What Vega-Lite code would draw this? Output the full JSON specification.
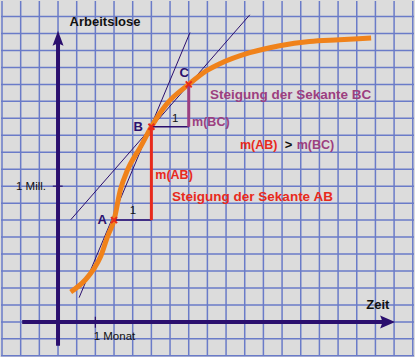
{
  "$schema": "https://vega.github.io/schema/vega-lite/v6.json",
  "width": 415,
  "height": 357,
  "autosize": {"type": "fit", "contains": "padding"},
  "padding": 0,
  "background": "#dcdcdc",
  "config": {"view": {"stroke": null}},
  "datasets": {
    "gridx": [{"x": -3}, {"x": -2}, {"x": -1}, {"x": 0}, {"x": 1}, {"x": 2}, {"x": 3}, {"x": 4}, {"x": 5}, {"x": 6}, {"x": 7}, {"x": 8}, {"x": 9}, {"x": 10}, {"x": 11}, {"x": 12}, {"x": 13}, {"x": 14}, {"x": 15}, {"x": 16}, {"x": 17}, {"x": 18}, {"x": 19}],
    "gridy": [{"y": -2}, {"y": -1}, {"y": 0}, {"y": 1}, {"y": 2}, {"y": 3}, {"y": 4}, {"y": 5}, {"y": 6}, {"y": 7}, {"y": 8}, {"y": 9}, {"y": 10}, {"y": 11}, {"y": 12}, {"y": 13}, {"y": 14}, {"y": 15}, {"y": 16}, {"y": 17}, {"y": 18}],
    "curve": [
      {"x": 0.68, "y": 1.76}, {"x": 1.48, "y": 2.5}, {"x": 1.9, "y": 3.09}, {"x": 2.28, "y": 3.85},
      {"x": 2.65, "y": 5.03}, {"x": 3.0, "y": 6.0}, {"x": 3.34, "y": 7.78}, {"x": 3.72, "y": 8.95},
      {"x": 4.41, "y": 10.3}, {"x": 5.0, "y": 11.5}, {"x": 5.85, "y": 12.88}, {"x": 7.0, "y": 14.0},
      {"x": 7.98, "y": 14.82}, {"x": 8.67, "y": 15.22}, {"x": 10.27, "y": 15.87}, {"x": 11.87, "y": 16.28},
      {"x": 13.47, "y": 16.53}, {"x": 15.07, "y": 16.63}, {"x": 16.77, "y": 16.73}
    ],
    "thin": [
      {"x": 1.13, "y": 1.43, "x2": 7.07, "y2": 17.06},
      {"x": 0.68, "y": 6.02, "x2": 10.27, "y2": 18.1}
    ],
    "axes": [
      {"x": 0, "y": -1.4, "x2": 0, "y2": 16.6},
      {"x": -1.92, "y": 0, "x2": 17.5, "y2": 0}
    ],
    "ticks": [
      {"x": -0.28, "y": 8, "x2": 0.25, "y2": 8},
      {"x": 2, "y": 0.3, "x2": 2, "y2": -0.35}
    ],
    "runs": [
      {"x": 3, "y": 6, "x2": 5, "y2": 6},
      {"x": 5, "y": 11.5, "x2": 7, "y2": 11.5}
    ],
    "riseAB": [{"x": 5, "y": 6, "x2": 5, "y2": 11.5}],
    "riseBC": [{"x": 7, "y": 11.5, "x2": 7, "y2": 14}],
    "pts": [{"x": 3, "y": 6}, {"x": 5, "y": 11.5}, {"x": 7, "y": 14}],
    "arrowUp": [{"x": 0, "y": 16.57}],
    "arrowRight": [{"x": 17.52, "y": 0}],
    "tNavy": [{"x": 2.12, "y": 6.0, "t": "A"}, {"x": 4.04, "y": 11.49, "t": "B"}, {"x": 6.5, "y": 14.66, "t": "C"}],
    "tBlackBold": [{"x": 0.62, "y": 17.66, "t": "Arbeitslose"}, {"x": 16.51, "y": 0.98, "t": "Zeit"}, {"x": 12.14, "y": 10.42, "t": ">"}],
    "tBlack": [{"x": -2.25, "y": 7.95, "t": "1 Mill."}, {"x": 1.91, "y": -0.89, "t": "1 Monat"}, {"x": 3.84, "y": 6.54, "t": "1"}, {"x": 6.1, "y": 11.98, "t": "1"}],
    "tRed": [{"x": 5.21, "y": 8.66, "t": "m(AB)"}, {"x": 9.74, "y": 10.42, "t": "m(AB)"}],
    "tRedBig": [{"x": 6.11, "y": 7.37, "t": "Steigung der Sekante AB"}],
    "tPurple": [{"x": 7.18, "y": 11.79, "t": "m(BC)"}, {"x": 12.78, "y": 10.42, "t": "m(BC)"}],
    "tPurpleBig": [{"x": 8.14, "y": 13.35, "t": "Steigung der Sekante BC"}]
  },
  "layer": [
    {
      "data": {"name": "gridx"},
      "mark": {"type": "rule", "color": "#6a7bc8", "strokeWidth": 1.5},
      "encoding": {"x": {"field": "x", "type": "quantitative", "scale": {"domain": [-3.054, 19.066], "nice": false, "zero": false}, "axis": null}}
    },
    {
      "data": {"name": "gridy"},
      "mark": {"type": "rule", "color": "#6a7bc8", "strokeWidth": 1.5},
      "encoding": {"y": {"field": "y", "type": "quantitative", "scale": {"domain": [-2.011, 18.916], "nice": false, "zero": false}, "axis": null}}
    },
    {
      "data": {"name": "thin"},
      "mark": {"type": "rule", "color": "#2b0f6e", "strokeWidth": 1},
      "encoding": {
        "x": {"field": "x", "type": "quantitative"}, "y": {"field": "y", "type": "quantitative"},
        "x2": {"field": "x2"}, "y2": {"field": "y2"}
      }
    },
    {
      "data": {"name": "curve"},
      "mark": {"type": "line", "color": "#f0821a", "strokeWidth": 5, "interpolate": "monotone"},
      "encoding": {"x": {"field": "x", "type": "quantitative"}, "y": {"field": "y", "type": "quantitative"}}
    },
    {
      "data": {"name": "runs"},
      "mark": {"type": "rule", "color": "#2b0f6e", "strokeWidth": 1.5},
      "encoding": {
        "x": {"field": "x", "type": "quantitative"}, "y": {"field": "y", "type": "quantitative"},
        "x2": {"field": "x2"}, "y2": {"field": "y2"}
      }
    },
    {
      "data": {"name": "riseAB"},
      "mark": {"type": "rule", "color": "#e82a1c", "strokeWidth": 3},
      "encoding": {
        "x": {"field": "x", "type": "quantitative"}, "y": {"field": "y", "type": "quantitative"},
        "x2": {"field": "x2"}, "y2": {"field": "y2"}
      }
    },
    {
      "data": {"name": "riseBC"},
      "mark": {"type": "rule", "color": "#9c3f80", "strokeWidth": 3},
      "encoding": {
        "x": {"field": "x", "type": "quantitative"}, "y": {"field": "y", "type": "quantitative"},
        "x2": {"field": "x2"}, "y2": {"field": "y2"}
      }
    },
    {
      "data": {"name": "axes"},
      "mark": {"type": "rule", "color": "#2b0f6e", "strokeWidth": 4},
      "encoding": {
        "x": {"field": "x", "type": "quantitative"}, "y": {"field": "y", "type": "quantitative"},
        "x2": {"field": "x2"}, "y2": {"field": "y2"}
      }
    },
    {
      "data": {"name": "ticks"},
      "mark": {"type": "rule", "color": "#2b0f6e", "strokeWidth": 1.2},
      "encoding": {
        "x": {"field": "x", "type": "quantitative"}, "y": {"field": "y", "type": "quantitative"},
        "x2": {"field": "x2"}, "y2": {"field": "y2"}
      }
    },
    {
      "data": {"name": "arrowUp"},
      "mark": {"type": "point", "filled": true, "color": "#2b0f6e", "opacity": 1, "size": 400, "shape": "M0,-1L0.55,0.5L0,0.25L-0.55,0.5Z"},
      "encoding": {"x": {"field": "x", "type": "quantitative"}, "y": {"field": "y", "type": "quantitative"}}
    },
    {
      "data": {"name": "arrowRight"},
      "mark": {"type": "point", "filled": true, "color": "#2b0f6e", "opacity": 1, "size": 400, "shape": "M1,0L-0.5,0.65L-0.25,0L-0.5,-0.65Z"},
      "encoding": {"x": {"field": "x", "type": "quantitative"}, "y": {"field": "y", "type": "quantitative"}}
    },
    {
      "data": {"name": "pts"},
      "mark": {"type": "point", "filled": false, "color": "#e82a1c", "opacity": 1, "strokeWidth": 2, "size": 36, "shape": "M-1,-1L1,1M1,-1L-1,1"},
      "encoding": {"x": {"field": "x", "type": "quantitative"}, "y": {"field": "y", "type": "quantitative"}}
    },
    {
      "data": {"name": "tNavy"},
      "mark": {"type": "text", "align": "left", "baseline": "middle", "font": "Liberation Sans", "fontSize": 13, "fontWeight": "bold", "color": "#2b0f6e"},
      "encoding": {"x": {"field": "x", "type": "quantitative"}, "y": {"field": "y", "type": "quantitative"}, "text": {"field": "t"}}
    },
    {
      "data": {"name": "tBlackBold"},
      "mark": {"type": "text", "align": "left", "baseline": "middle", "font": "Liberation Sans", "fontSize": 13, "fontWeight": "bold", "color": "#111111"},
      "encoding": {"x": {"field": "x", "type": "quantitative"}, "y": {"field": "y", "type": "quantitative"}, "text": {"field": "t"}}
    },
    {
      "data": {"name": "tBlack"},
      "mark": {"type": "text", "align": "left", "baseline": "middle", "font": "Liberation Sans", "fontSize": 11.5, "color": "#111111"},
      "encoding": {"x": {"field": "x", "type": "quantitative"}, "y": {"field": "y", "type": "quantitative"}, "text": {"field": "t"}}
    },
    {
      "data": {"name": "tRed"},
      "mark": {"type": "text", "align": "left", "baseline": "middle", "font": "Liberation Sans", "fontSize": 12.5, "fontWeight": "bold", "color": "#e82a1c"},
      "encoding": {"x": {"field": "x", "type": "quantitative"}, "y": {"field": "y", "type": "quantitative"}, "text": {"field": "t"}}
    },
    {
      "data": {"name": "tRedBig"},
      "mark": {"type": "text", "align": "left", "baseline": "middle", "font": "Liberation Sans", "fontSize": 13.5, "fontWeight": "bold", "color": "#e82a1c"},
      "encoding": {"x": {"field": "x", "type": "quantitative"}, "y": {"field": "y", "type": "quantitative"}, "text": {"field": "t"}}
    },
    {
      "data": {"name": "tPurple"},
      "mark": {"type": "text", "align": "left", "baseline": "middle", "font": "Liberation Sans", "fontSize": 12.5, "fontWeight": "bold", "color": "#9c3f80"},
      "encoding": {"x": {"field": "x", "type": "quantitative"}, "y": {"field": "y", "type": "quantitative"}, "text": {"field": "t"}}
    },
    {
      "data": {"name": "tPurpleBig"},
      "mark": {"type": "text", "align": "left", "baseline": "middle", "font": "Liberation Sans", "fontSize": 13.5, "fontWeight": "bold", "color": "#9c3f80"},
      "encoding": {"x": {"field": "x", "type": "quantitative"}, "y": {"field": "y", "type": "quantitative"}, "text": {"field": "t"}}
    }
  ]
}
